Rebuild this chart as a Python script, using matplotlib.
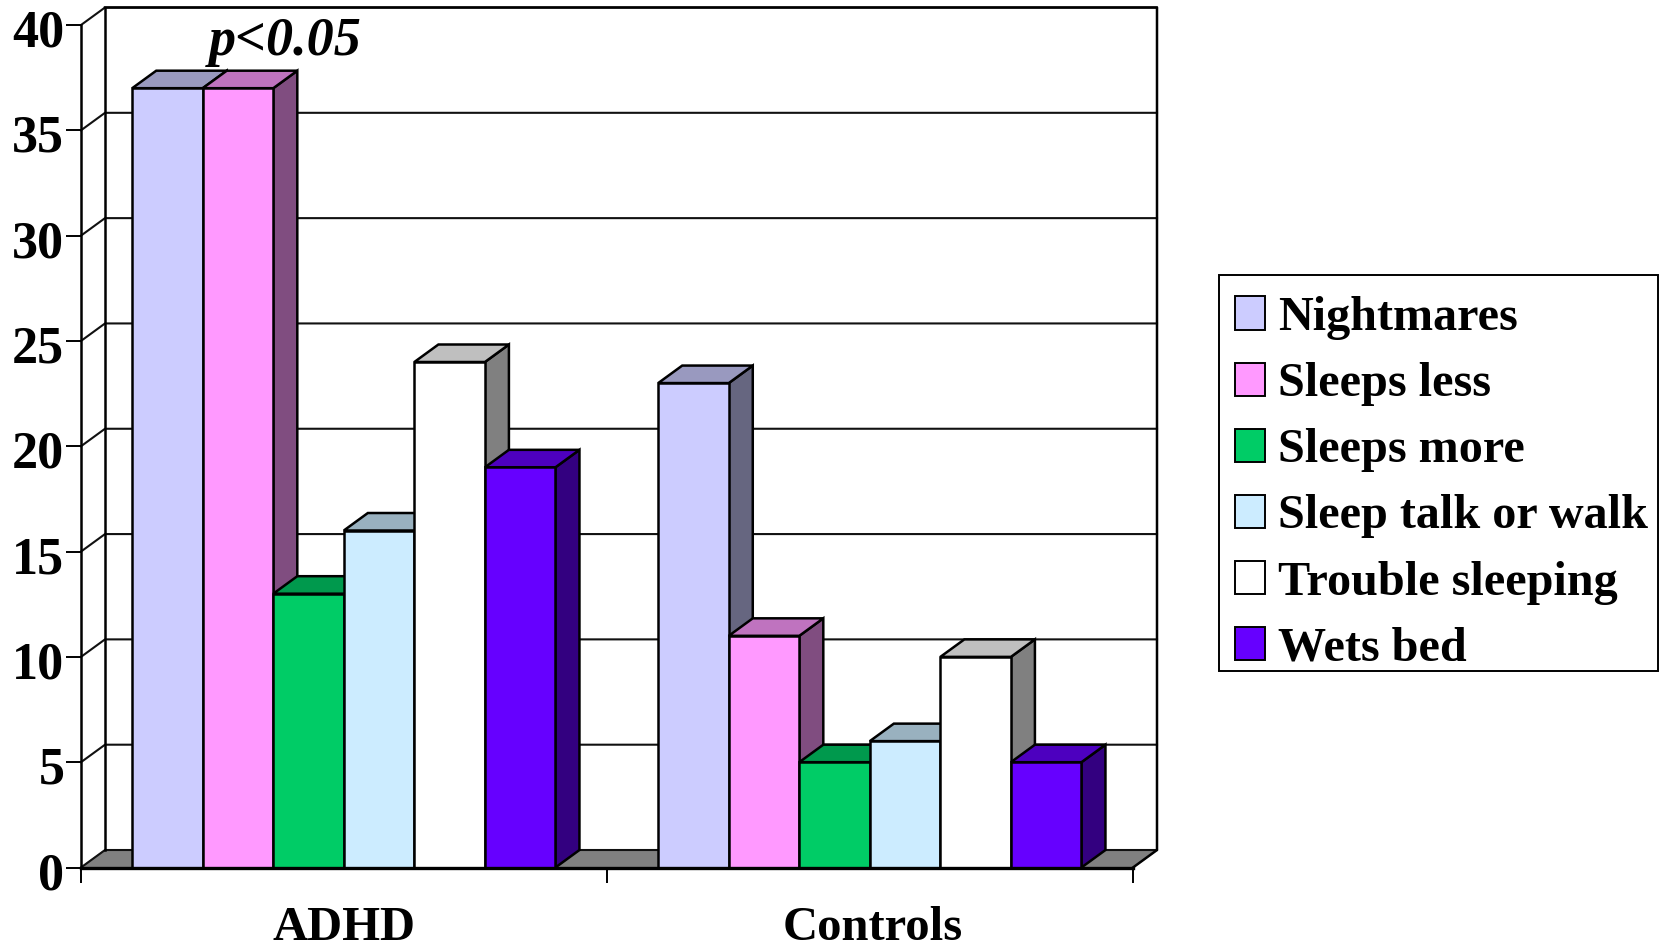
import matplotlib
matplotlib.use('Agg')
import matplotlib.pyplot as plt
from matplotlib.patches import Patch, Rectangle
from matplotlib.colors import to_rgb
from matplotlib.transforms import ScaledTranslation

plt.rcParams['font.family'] = 'Liberation Serif'
plt.rcParams['font.weight'] = 'bold'

groups = ['ADHD', 'Controls']
series = ['Nightmares', 'Sleeps less', 'Sleeps more', 'Sleep talk or walk', 'Trouble sleeping', 'Wets bed']
colors = ['#CCCCFF', '#FF99FF', '#00CC66', '#CCECFF', '#FFFFFF', '#6600FF']
adhd = [37, 37, 13, 16, 24, 19]
controls = [23, 11, 5, 6, 10, 5]
yticks = [0, 5, 10, 15, 20, 25, 30, 35, 40]

W, H = 1659, 944
DX = 24 / 526      # depth of the fake 3d, in axis units
DY = 17.5 / 21.07
BAR_W = 0.1341
LW = 1.8


def shade(c, f):
    return tuple(v * f for v in to_rgb(c))


fig = plt.figure(figsize=(W / 100, H / 100), dpi=100)
ax = fig.add_axes([81 / W, 1 - 867.5 / H, (1133 - 81) / W, (867.5 - 25) / H])
ax.set_xlim(0, 2)
ax.set_ylim(0, 40)
for s in ax.spines.values():
    s.set_visible(False)

# walls and floor
ax.fill([0, DX, 2 + DX, 2], [0, DY, DY, 0], color='#808080', zorder=1, clip_on=False)
for y in yticks:
    ax.plot([0, DX, 2 + DX], [y, y + DY, y + DY], color='#111111', lw=1.5, zorder=1.5, clip_on=False)
ax.plot([0, 0], [0, 40], color='k', lw=LW, zorder=2, clip_on=False)
ax.plot([DX, DX], [DY, 40 + DY], color='k', lw=LW, zorder=2, clip_on=False)
ax.plot([DX, 2 + DX, 2 + DX, 2], [40 + DY, 40 + DY, DY, 0], color='k', lw=LW, zorder=2, clip_on=False)
ax.plot([0, 2], [0, 0], color='k', lw=2.4, zorder=60, clip_on=False)

# bars, left to right so the later ones sit over the earlier sides
z = 3
for g, vals in enumerate([adhd, controls]):
    left = g + 0.0974
    for i, v in enumerate(vals):
        x0 = left + i * BAR_W
        x1 = x0 + BAR_W
        c = colors[i]
        ax.fill([x1, x1 + DX, x1 + DX, x1], [0, DY, v + DY, v], facecolor=shade(c, 0.5),
                edgecolor='k', lw=LW, zorder=z, clip_on=False, joinstyle='miter')
        ax.fill([x0, x0 + DX, x1 + DX, x1], [v, v + DY, v + DY, v], facecolor=shade(c, 0.75),
                edgecolor='k', lw=LW, zorder=z, clip_on=False, joinstyle='miter')
        ax.bar(x0, v, width=BAR_W, align='edge', color=c, edgecolor='k', lw=LW, zorder=z + 0.5, clip_on=False)
        z += 1

ax.set_yticks(yticks)
ax.set_yticklabels([str(y) for y in yticks], fontsize=37.5, fontweight='bold')
ax.tick_params(axis='y', length=10.5, width=1.4, pad=1.5)
# the numbers sit a little under their ticks
for lab in ax.get_yticklabels():
    lab.set_transform(lab.get_transform() + ScaledTranslation(0, -3 / 100, fig.dpi_scale_trans))
ax.set_xticks([0, 1, 2])
ax.set_xticklabels([])
ax.tick_params(axis='x', which='major', length=11, width=1.4)
ax.set_xticks([0.5, 1.505], minor=True)
ax.set_xticklabels(groups, minor=True, fontsize=35, fontweight='bold')
ax.tick_params(axis='x', which='minor', length=0, pad=28)

ax.text(0.389, 38.56, 'p<0.05', fontsize=39, style='italic', fontweight='bold',
        ha='center', va='baseline', zorder=70)

# legend frame drawn apart, the padding in the original is uneven
fig.add_artist(Rectangle((1219 / W, 1 - 671 / H), 439 / W, 396 / H, transform=fig.transFigure,
                         facecolor='white', edgecolor='k', lw=1.4))
handles = [Patch(facecolor=c, edgecolor='k', lw=1.4) for c in colors]
leg = fig.legend(handles, series, loc='upper left', bbox_to_anchor=(1218 / W, 1 - 279 / H),
                 prop={'family': 'Liberation Serif', 'weight': 'bold', 'size': 34.7},
                 frameon=False, borderpad=0.35, labelspacing=0.46,
                 handlelength=0.62, handleheight=0.68, handletextpad=0.285, borderaxespad=0)
leg.set_zorder(5)

fig.savefig('out.png', dpi=100)
